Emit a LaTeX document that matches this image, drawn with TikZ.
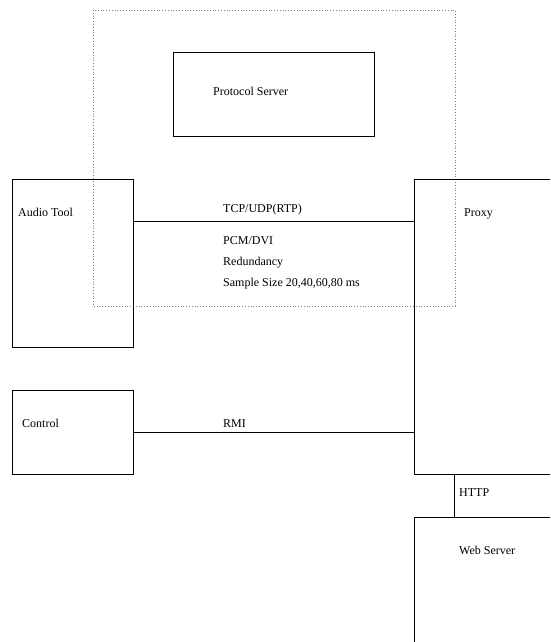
\documentclass[tikz,border=0pt]{standalone}
\usepackage{fontspec}
\setmainfont{Liberation Serif}
\begin{document}
\begin{tikzpicture}[x=1pt, y=-1pt, font=\fontsize{12}{14}\selectfont,
  box/.style={draw, line width=0.8pt, anchor=north west, inner sep=0pt},
  lbl/.style={anchor=base west, inner sep=0pt}]
\useasboundingbox (0,0) rectangle (550,642);
\clip (0,0) rectangle (550,642);

% Protocol server area
\draw[dotted, gray, line width=0.8pt] (93,10) rectangle (455,306);
\node[box, minimum width=201pt, minimum height=84pt] (server) at (173,52) {};
\node[lbl] (serverlbl) at (213,95) {Protocol Server};

% Audio tool and control
\node[box, minimum width=121pt, minimum height=168pt] (audio) at (12,179) {};
\node[lbl] (audiolbl) at (18,216) {Audio Tool};
\node[box, minimum width=121pt, minimum height=84pt] (control) at (12,390) {};
\node[lbl] (controllbl) at (22,427) {Control};

% Proxy and web server
\node[box, minimum width=160pt, minimum height=295pt] (proxy) at (414,179) {};
\node[lbl] (proxylbl) at (464,216) {Proxy};
\node[box, minimum width=160pt, minimum height=160pt] (web) at (414,517) {};
\node[lbl] (weblbl) at (459,554) {Web Server};

% Connections
\coordinate (tcp) at (273,221);
\coordinate (rmi) at (273,432);
\coordinate (http) at (454,495);
\draw[line width=0.8pt] (audio.east |- tcp) -- (proxy.west |- tcp);
\draw[line width=0.8pt] (control.east |- rmi) -- (proxy.west |- rmi);
\draw[line width=0.8pt] (proxy.south -| http) -- (web.north -| http);

% Link labels
\node[lbl] (tcplbl) at (223,212) {TCP/UDP(RTP)};
\node[lbl] (pcmlbl) at (223,244) {PCM/DVI};
\node[lbl] (redlbl) at (223,265) {Redundancy};
\node[lbl] (samplbl) at (223,286) {Sample Size 20,40,60,80 ms};
\node[lbl] (rmilbl) at (223,427) {RMI};
\node[lbl] (httplbl) at (459,496) {HTTP};

\end{tikzpicture}
\end{document}
